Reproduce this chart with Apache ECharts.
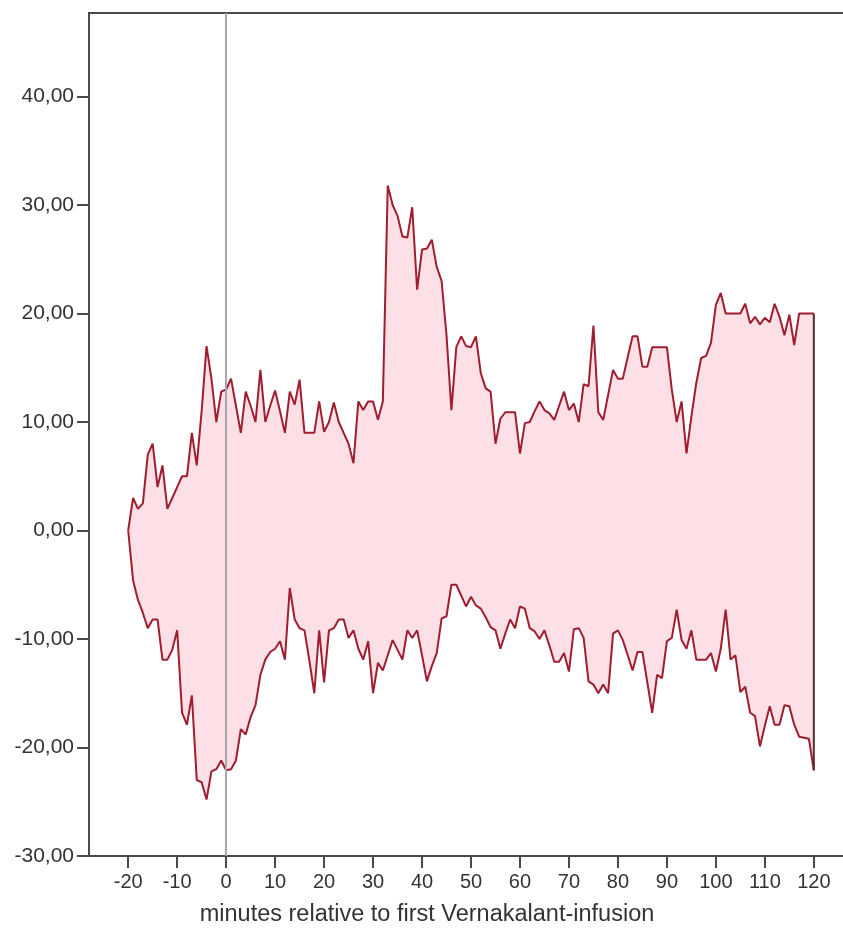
<!DOCTYPE html>
<html>
<head>
<meta charset="utf-8">
<script src="https://cdn.jsdelivr.net/npm/echarts@6/dist/echarts.min.js"></script>
<style>
  html, body { margin: 0; padding: 0; background: #ffffff; }
  #chart { width: 843px; height: 935px; }
</style>
</head>
<body>
<div id="chart"></div>
<script>
// Minutes relative to the first infusion (one sample per minute)
const minutes = [];
for (let m = -20; m <= 120; m++) minutes.push(m);

// Upper envelope of the band
const upper = [
  0, 3, 2, 2.5, 7, 8, 4, 6, 2, 3,
  4, 5, 5, 9, 6, 11, 17, 14, 10, 12.8,
  13, 14, 11.5, 9, 12.8, 11.5, 10, 14.8, 10, 11.5,
  12.9, 11, 9, 12.8, 11.6, 13.9, 9, 9, 9, 11.9,
  9.1, 10, 11.8, 10, 9, 8, 6.2, 11.9, 11.1, 11.9,
  11.9, 10.2, 11.9, 31.8, 30, 29, 27.1, 27, 29.8, 22.2,
  25.9, 26, 26.8, 24.3, 23, 18, 11.1, 16.9, 17.9, 17,
  16.9, 17.9, 14.5, 13.1, 12.8, 8, 10.3, 10.9, 10.9, 10.9,
  7.1, 9.9, 10, 11, 11.9, 11.1, 10.8, 10.2, 11.5, 12.8,
  11.1, 11.7, 10, 13.5, 13.3, 18.9, 10.9, 10.2, 12.5, 14.8,
  14, 14, 16, 17.9, 17.9, 15.1, 15.1, 16.9, 16.9, 16.9,
  16.9, 13, 10, 11.9, 7.1, 10.5, 13.6, 15.9, 16.1, 17.3,
  20.8, 21.9, 20, 20, 20, 20, 20.9, 19.1, 19.7, 19,
  19.6, 19.2, 20.9, 19.7, 18, 19.9, 17.1, 20, 20, 20,
  20
];

// Lower envelope of the band
const lower = [
  0, -4.6, -6.4, -7.6, -9, -8.2, -8.2, -11.9, -11.9, -11,
  -9.2, -16.8, -17.9, -15.2, -23, -23.2, -24.8, -22.2, -22, -21.2,
  -22.1, -22, -21.2, -18.3, -18.8, -17.2, -16.1, -13.3, -11.9, -11.2,
  -10.9, -10.2, -11.9, -5.3, -8.2, -9, -9.2, -12, -15, -9.2,
  -14, -9.2, -9, -8.2, -8.2, -9.9, -9.2, -10.9, -11.9, -10.2,
  -15, -12.2, -12.9, -11.5, -10.1, -11, -11.9, -9.2, -9.9, -9.2,
  -11.5, -13.9, -12.5, -11.3, -8.1, -7.9, -5, -5, -6, -7,
  -6.1, -6.9, -7.2, -8, -8.9, -9.2, -10.9, -9.5, -8.2, -9,
  -7, -7.2, -9, -9.3, -10, -9.2, -10.6, -12.1, -12.1, -11.3,
  -13, -9.1, -9, -9.9, -13.9, -14.2, -15, -14.2, -15, -9.5,
  -9.2, -10.1, -11.5, -12.9, -11.2, -11.2, -14, -16.8, -13.3, -13.6,
  -10.2, -9.9, -7.3, -10.1, -10.9, -9.2, -11.9, -11.9, -11.9, -11.3,
  -13, -10.9, -7.3, -11.9, -11.5, -14.9, -14.4, -16.8, -17.1, -19.9,
  -18, -16.2, -17.9, -17.9, -16.1, -16.2, -17.9, -19, -19.1, -19.2,
  -22.1
];

// Tick positions shown on each axis
const xTicks = [-20, -10, 0, 10, 20, 30, 40, 50, 60, 70, 80, 90, 100, 110, 120];
const yTicks = [-30, -20, -10, 0, 10, 20, 30, 40];

const xTitle = 'minutes relative to first Vernakalant-infusion';

const LINE = '#a01d30';
const FILL = '#fde0e5';
const FRAME = '#4a4a4a';
const TEXT = '#333333';
const FONT = '"Liberation Sans", Arial, sans-serif';

const upperPts = minutes.map((m, i) => [m, upper[i]]);
const lowerPts = minutes.map((m, i) => [m, lower[i]]);
const last = minutes.length - 1;
const closingEdge = [[minutes[last], upper[last]], [minutes[last], lower[last]]];

const chart = echarts.init(document.getElementById('chart'), null, { renderer: 'canvas' });

const lineBase = {
  type: 'line',
  showSymbol: false,
  symbol: 'none',
  silent: true,
  animation: false
};

chart.setOption({
  animation: false,
  backgroundColor: '#ffffff',
  grid: {
    left: 89,
    top: 13,
    width: 764,
    height: 843,
    show: true,
    borderColor: FRAME,
    borderWidth: 2,
    outerBoundsMode: 'none',
    containLabel: false
  },
  xAxis: {
    type: 'value',
    min: -28,
    max: 128,
    axisLine: { show: true, onZero: false, lineStyle: { color: FRAME, width: 2 } },
    axisTick: { show: true, length: 12, customValues: xTicks, lineStyle: { color: FRAME, width: 2 } },
    axisLabel: { customValues: xTicks, fontSize: 20, fontFamily: FONT, color: TEXT, margin: 16 },
    splitLine: { show: false }
  },
  yAxis: {
    type: 'value',
    min: -30,
    max: 47.7,
    axisLine: { show: true, onZero: false, lineStyle: { color: FRAME, width: 2 } },
    axisTick: { show: true, length: 12, customValues: yTicks, lineStyle: { color: FRAME, width: 2 } },
    axisLabel: {
      customValues: yTicks,
      fontSize: 21,
      fontFamily: FONT,
      color: TEXT,
      margin: 15,
      formatter: v => v.toFixed(2).replace('.', ',')
    },
    splitLine: { show: false }
  },
  graphic: [{
    type: 'text',
    x: 427,
    y: 915,
    silent: true,
    style: {
      text: xTitle,
      font: '23.5px ' + FONT,
      fill: TEXT,
      textAlign: 'center',
      textVerticalAlign: 'middle'
    }
  }],
  series: [
    // filled band: each half fills towards zero; the upper half reaches a hair
    // below zero so the two halves overlap instead of leaving a seam
    Object.assign({}, lineBase, {
      name: 'upper-fill', data: upperPts, z: 1,
      lineStyle: { width: 0, opacity: 0 },
      areaStyle: { color: FILL, opacity: 1, origin: -0.1 }
    }),
    Object.assign({}, lineBase, {
      name: 'lower-fill', data: lowerPts, z: 1,
      lineStyle: { width: 0, opacity: 0 },
      areaStyle: { color: FILL, opacity: 1, origin: 0 }
    }),
    // reference line at the start of the infusion
    Object.assign({}, lineBase, {
      name: 'start', data: [], z: 2,
      markLine: {
        silent: true,
        symbol: ['none', 'none'],
        label: { show: false },
        lineStyle: { color: '#a8a8a8', width: 2, type: 'solid' },
        data: [{ xAxis: 0 }]
      }
    }),
    // outlines of the band
    Object.assign({}, lineBase, {
      name: 'upper', data: upperPts, z: 3,
      lineStyle: { color: LINE, width: 2 }
    }),
    Object.assign({}, lineBase, {
      name: 'lower', data: lowerPts, z: 3,
      lineStyle: { color: LINE, width: 2 }
    }),
    Object.assign({}, lineBase, {
      name: 'edge', data: closingEdge, z: 3,
      lineStyle: { color: '#5a2a30', width: 2 }
    })
  ]
});
</script>
</body>
</html>
